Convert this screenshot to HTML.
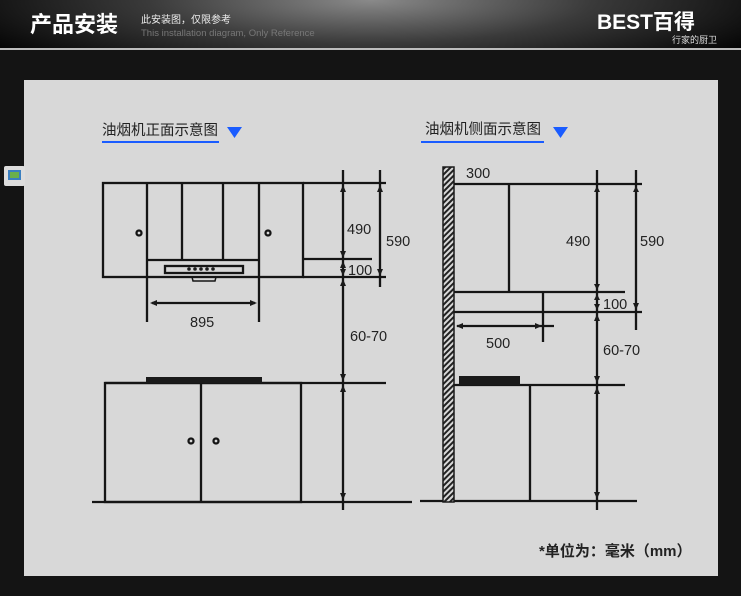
<!DOCTYPE html>
<html><head><meta charset="utf-8"><style>
html,body{margin:0;padding:0;background:#141414;}
body{width:741px;height:596px;overflow:hidden;position:relative;}
</style></head><body>
<svg width="741" height="596" viewBox="0 0 741 596" xmlns="http://www.w3.org/2000/svg" style="position:absolute;left:0;top:0">
<defs>
<radialGradient id="hg" cx="0.5" cy="0" r="0.6" gradientTransform="scale(1,3)">
<stop offset="0" stop-color="#8a8a8a"/><stop offset="0.5" stop-color="#3a3a3a"/><stop offset="1" stop-color="#050505"/>
</radialGradient>
<pattern id="hatch" width="4" height="4" patternUnits="userSpaceOnUse" patternTransform="rotate(-45)">
<rect width="4" height="4" fill="#d8d8d8"/><rect width="4" height="2" fill="#222"/>
</pattern>
</defs>
<rect x="0" y="0" width="741" height="48" fill="url(#hg)"/>
<rect x="0" y="48" width="741" height="2" fill="#bdbdbd"/>
<rect x="0" y="50" width="741" height="546" fill="#141414"/>
<text x="30" y="32" font-family="Liberation Sans, Noto Sans CJK SC, sans-serif" font-weight="bold" font-size="22" fill="#fff">产品安装</text>
<text x="141" y="23" font-family="Liberation Sans, Noto Sans CJK SC, sans-serif" font-size="10" fill="#eee">此安装图，仅限参考</text>
<text x="141" y="36" font-family="Liberation Sans, sans-serif" font-size="9.5" fill="#777">This installation diagram, Only Reference</text>
<text x="597" y="29" font-family="Liberation Sans, Noto Sans CJK SC, sans-serif" font-weight="bold" font-size="21" fill="#fff">BEST百得</text>
<text x="672" y="43" font-family="Liberation Sans, Noto Sans CJK SC, sans-serif" font-size="9" fill="#ddd">行家的厨卫</text>

<rect x="24" y="80" width="694" height="496" fill="#d8d8d8"/>
<rect x="4" y="166" width="21" height="20" rx="2" fill="#ddd"/>
<rect x="8" y="170" width="13" height="10" fill="#3a7fc0"/><rect x="10" y="172" width="9" height="6" fill="#6ab04c"/>

<g font-family="Liberation Sans, Noto Sans CJK SC, sans-serif" font-size="14.5" fill="#222">
<text x="102" y="135">油烟机正面示意图</text>
<text x="425" y="134">油烟机侧面示意图</text>
</g>
<rect x="102" y="141" width="117" height="2" fill="#1a5cff"/>
<rect x="421" y="141" width="123" height="2" fill="#1a5cff"/>
<polygon points="227,127 242,127 234.5,138" fill="#1a5cff"/>
<polygon points="553,127 568,127 560.5,138" fill="#1a5cff"/>

<g stroke="#151515" stroke-width="2.3" fill="none">
<rect x="103" y="183" width="200" height="94"/>
<line x1="303" y1="183" x2="386" y2="183"/>
<line x1="303" y1="277" x2="386" y2="277"/>
<line x1="303" y1="259" x2="372" y2="259"/>
<line x1="147" y1="183" x2="147" y2="322"/>
<line x1="259" y1="183" x2="259" y2="322"/>
<line x1="182" y1="183" x2="182" y2="260"/>
<line x1="223" y1="183" x2="223" y2="260"/>
<line x1="147" y1="260" x2="259" y2="260"/>
<rect x="165" y="266" width="78" height="7"/>
<polyline points="192,277 193,281 215,281 216,277" stroke-width="1.5"/>
<circle cx="139" cy="233" r="2.5"/><circle cx="268" cy="233" r="2.5"/>
<line x1="152" y1="303" x2="255" y2="303"/>
<line x1="105" y1="383" x2="386" y2="383"/>
<rect x="105" y="383" width="196" height="119"/>
<line x1="201" y1="383" x2="201" y2="502"/>
<circle cx="191" cy="441" r="2.5"/><circle cx="216" cy="441" r="2.5"/>
<line x1="92" y1="502" x2="412" y2="502"/>
<line x1="343" y1="170" x2="343" y2="510"/>
<line x1="380" y1="170" x2="380" y2="287"/>
<line x1="454" y1="184" x2="642" y2="184"/>
<line x1="509" y1="184" x2="509" y2="292"/>
<line x1="454" y1="292" x2="625" y2="292"/>
<line x1="543" y1="292" x2="543" y2="342"/>
<line x1="454" y1="312" x2="642" y2="312"/>
<line x1="457" y1="326" x2="554" y2="326"/>
<line x1="454" y1="385" x2="625" y2="385"/>
<line x1="530" y1="385" x2="530" y2="501"/>
<line x1="420" y1="501" x2="637" y2="501"/>
<line x1="597" y1="170" x2="597" y2="510"/>
<line x1="636" y1="170" x2="636" y2="330"/>
</g>
<rect x="443" y="167" width="11" height="335" fill="url(#hatch)" stroke="#1a1a1a" stroke-width="1.5"/>
<rect x="146" y="377" width="116" height="6" fill="#1a1a1a"/>
<rect x="459" y="376" width="61" height="9" fill="#1a1a1a"/>

<g fill="#1a1a1a">
<polygon points="340,192 346,192 343,185"/><polygon points="340,251 346,251 343,258"/>
<polygon points="340,268 346,268 343,261"/><polygon points="340,269 346,269 343,276"/>
<polygon points="340,286 346,286 343,279"/><polygon points="340,374 346,374 343,381"/>
<polygon points="340,392 346,392 343,385"/><polygon points="340,493 346,493 343,500"/>
<polygon points="377,192 383,192 380,185"/><polygon points="377,269 383,269 380,276"/>
<polygon points="594,192 600,192 597,186"/><polygon points="594,284 600,284 597,290"/>
<polygon points="594,300 600,300 597,294"/><polygon points="594,304 600,304 597,310"/>
<polygon points="594,321 600,321 597,314"/><polygon points="594,376 600,376 597,383"/>
<polygon points="594,394 600,394 597,387"/><polygon points="594,492 600,492 597,499"/>
<polygon points="633,192 639,192 636,186"/><polygon points="633,303 639,303 636,310"/>
<polygon points="157,300 157,306 150,303"/><polygon points="250,300 250,306 257,303"/>
<polygon points="463,323 463,329 456,326"/><polygon points="535,323 535,329 542,326"/>
<circle cx="189" cy="269" r="1.8"/><circle cx="195" cy="269" r="1.8"/><circle cx="201" cy="269" r="1.8"/><circle cx="207" cy="269" r="1.8"/><circle cx="213" cy="269" r="1.8"/>
</g>

<g font-family="Liberation Sans, sans-serif" font-size="14.5" fill="#222">
<text x="347" y="234">490</text>
<text x="386" y="246">590</text>
<text x="348" y="275">100</text>
<text x="350" y="341">60-70</text>
<text x="190" y="327">895</text>
<text x="466" y="178">300</text>
<text x="566" y="246">490</text>
<text x="640" y="246">590</text>
<text x="603" y="309">100</text>
<text x="603" y="355">60-70</text>
<text x="486" y="348">500</text>
</g>
<text x="539" y="556" font-family="Liberation Sans, Noto Sans CJK SC, sans-serif" font-weight="bold" font-size="15" fill="#222">*单位为：毫米（mm）</text>
</svg>
</body></html>
